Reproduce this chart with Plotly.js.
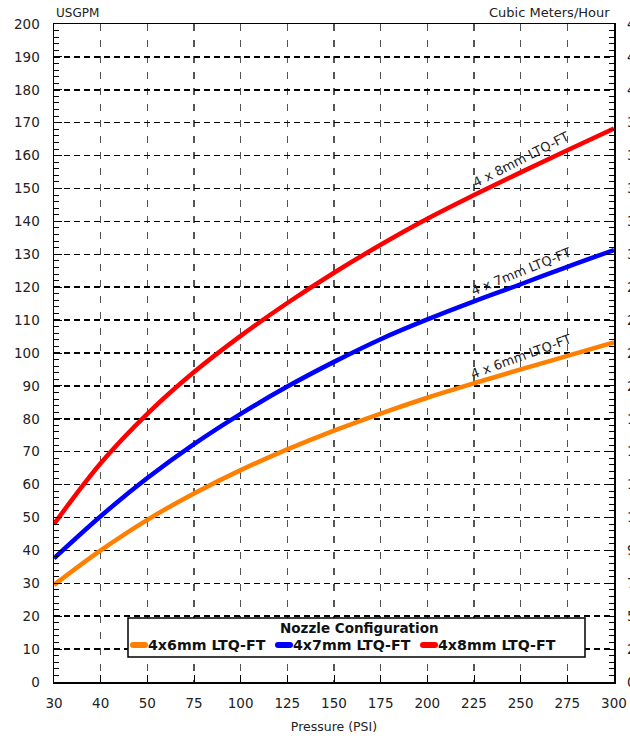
<!DOCTYPE html>
<html>
<head>
<meta charset="utf-8">
<script src="https://cdn.plot.ly/plotly-3.0.1.min.js"></script>
<style>
html,body{margin:0;padding:0;background:#fff;}
#chart{width:630px;height:736px;}
</style>
</head>
<body>
<div id="chart"></div>
<script>
// Pressure (PSI) categories
const pressures = ['30','40','50','75','100','125','150','175','200','225','250','275','300'];
// Flow in USGPM
const flow6mm = [29.5, 40, 49.3, 57.3, 64.4, 70.7, 76.4, 81.6, 86.4, 90.8, 95, 99.1, 103.2];
const flow7mm = [37.6, 50.4, 62, 72.3, 81.5, 89.8, 97.3, 104.2, 110.2, 115.7, 120.9, 126.2, 131.3];
const flow8mm = [48, 66.5, 81.5, 94.2, 105.2, 115.2, 124.4, 132.9, 140.8, 148, 154.9, 161.6, 168.2];
const seriesNames = ['4x6mm LTQ-FT','4x7mm LTQ-FT','4x8mm LTQ-FT'];
const curveLabels = ['4 x 6mm LTQ-FT','4 x 7mm LTQ-FT','4 x 8mm LTQ-FT'];
const colors = ['#FF8000','#0000FF','#FF0000'];
const yTicks = [0,10,20,30,40,50,60,70,80,90,100,110,120,130,140,150,160,170,180,190,200];
const GPM_TO_M3H = 0.22712;

const FONT = 'DejaVu Sans, Verdana, sans-serif';
const allFlows = [flow6mm, flow7mm, flow8mm];

const traces = allFlows.map((f, i) => ({
  x: pressures, y: f, type: 'scatter', mode: 'lines',
  name: seriesNames[i], showlegend: false,
  line: {color: colors[i], width: 4.5, shape: 'spline', smoothing: 1}
}));
// invisible trace for right axis
traces.push({x: pressures, y: flow8mm.map(v => v * GPM_TO_M3H), yaxis: 'y2', mode: 'lines',
  line: {color: 'rgba(0,0,0,0)'}, showlegend: false, hoverinfo: 'skip'});

// plot area in pixels (for paper coordinates of the custom legend)
const M = {l: 54, r: 16, t: 24, b: 54};
const PW = 630 - M.l - M.r, PH = 736 - M.t - M.b;
const px = v => (v - M.l) / PW;
const py = v => (736 - M.b - v) / PH;

const labelIdx = pressures.indexOf('250');
const labelAngles = [-20, -22, -27];
const annotations = allFlows.map((f, i) => ({
  x: labelIdx, y: f[labelIdx], xref: 'x', yref: 'y', yshift: 13,
  text: curveLabels[i], showarrow: false, textangle: labelAngles[i],
  font: {family: FONT, size: 13, color: '#222'}
}));
annotations.push({x: 0, y: 1, xref: 'paper', yref: 'paper', xanchor: 'left', yanchor: 'bottom', yshift: 2,
  text: 'USGPM', showarrow: false, font: {family: FONT, size: 12, color: '#222'}});
annotations.push({x: px(612), y: 1, xref: 'paper', yref: 'paper', xanchor: 'right', yanchor: 'bottom', yshift: 2,
  text: 'Cubic Meters/Hour', showarrow: false, font: {family: FONT, size: 13, color: '#222'}});

// custom legend
const shapes = [{type: 'rect', xref: 'paper', yref: 'paper', x0: px(128), x1: px(585), y0: py(657), y1: py(618),
  line: {color: '#000', width: 1.5}, fillcolor: '#fff', layer: 'above'}];
annotations.push({x: px(359), y: py(628), xref: 'paper', yref: 'paper', xanchor: 'center', yanchor: 'middle',
  text: '<b>Nozzle Configuration</b>', showarrow: false, font: {family: FONT, size: 13.5, color: '#111'}});
const legX = [131, 276, 421];
seriesNames.forEach((n, i) => {
  shapes.push({type: 'line', xref: 'paper', yref: 'paper', x0: px(legX[i] + 2), x1: px(legX[i] + 14),
    y0: py(645), y1: py(645), line: {color: colors[i], width: 6}, layer: 'above'});
  annotations.push({x: px(legX[i] + 15), y: py(645), xref: 'paper', yref: 'paper', xanchor: 'left', yanchor: 'middle',
    text: '<b>' + n + '</b>', showarrow: false, font: {family: FONT, size: 14.2, color: '#111'}});
});
// round caps for the legend symbols
seriesNames.forEach((n, i) => {
  [legX[i] + 2, legX[i] + 14].forEach(cx => shapes.push({type: 'circle', xref: 'paper', yref: 'paper',
    xsizemode: 'pixel', ysizemode: 'pixel', xanchor: px(cx), yanchor: py(645), x0: -3, x1: 3, y0: -3, y1: 3,
    fillcolor: colors[i], line: {width: 0}, layer: 'above'}));
});

const layout = {
  width: 630, height: 736,
  margin: M,
  paper_bgcolor: '#fff', plot_bgcolor: '#fff',
  showlegend: false,
  xaxis: {
    type: 'category', range: [0, pressures.length - 1],
    showline: true, linecolor: '#000', linewidth: 1.5, mirror: true,
    ticks: 'inside', ticklen: 7, tickcolor: '#000',
    showgrid: true, gridcolor: '#555', gridwidth: 1.5, griddash: '7px,9px',
    tickfont: {family: FONT, size: 13.5, color: '#222'},
    ticklabelstandoff: 8,
    title: {text: 'Pressure (PSI)', font: {family: FONT, size: 12.5, color: '#222'}, standoff: 12},
    zeroline: false, fixedrange: true
  },
  yaxis: {
    range: [0, 200], tickvals: yTicks,
    showline: true, linecolor: '#000', linewidth: 1.5, mirror: 'allticks',
    ticks: 'inside', ticklen: 8, tickcolor: '#000',
    minor: {dtick: 2, ticks: 'inside', ticklen: 5, tickcolor: '#000', showgrid: false},
    showgrid: true, gridcolor: '#000', gridwidth: 1.5, griddash: '6px,4px',
    tickfont: {family: FONT, size: 13.5, color: '#222'},
    ticklabelstandoff: 10,
    zeroline: false, fixedrange: true
  },
  yaxis2: {
    overlaying: 'y', side: 'right', range: [0, 200 * GPM_TO_M3H],
    tickvals: yTicks.map(v => v * GPM_TO_M3H),
    ticktext: yTicks.map(v => (v * GPM_TO_M3H).toFixed(0)),
    showgrid: false, showline: false, ticks: '', zeroline: false,
    tickfont: {family: FONT, size: 13.5, color: '#222'},
    ticklabelstandoff: 12, fixedrange: true
  },
  shapes: shapes,
  annotations: annotations
};

Plotly.newPlot('chart', traces, layout, {staticPlot: true, displayModeBar: false});
</script>
</body>
</html>
